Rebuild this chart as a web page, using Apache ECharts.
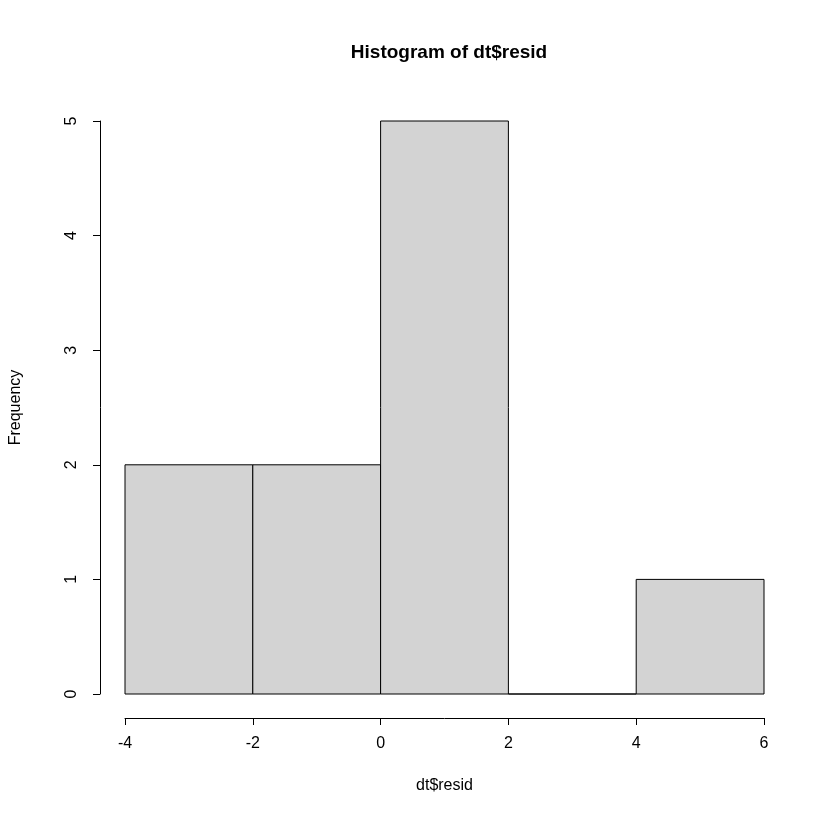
<!DOCTYPE html>
<html>
<head>
  <meta charset="UTF-8" />
  <script src="https://cdn.jsdelivr.net/npm/echarts@6/dist/echarts.min.js"></script>
  <style>
    body { margin: 0; background: #fff; }
    #chart { width: 840px; height: 840px; }
  </style>
</head>
<body>
  <div id="chart"></div>
  <script>
    // histogram bins
    const binStart = [-4, -2, 0, 2, 4];
    const binEnd = [-2, 0, 2, 4, 6];
    const counts = [2, 2, 5, 0, 1];
    const xTicks = [-4, -2, 0, 2, 4, 6];
    const yTicks = [0, 1, 2, 3, 4, 5];

    const font = 'Liberation Sans, Arial, sans-serif';
    const chart = echarts.init(document.getElementById('chart'));

    chart.setOption({
      animation: false,
      title: {
        text: 'Histogram of dt$resid',
        left: 444, top: 38, textAlign: 'center',
        textStyle: { fontFamily: font, fontSize: 19, fontWeight: 'bold', color: '#000' }
      },
      grid: { left: 124, right: 76, top: 121, bottom: 146 },
      xAxis: {
        type: 'value', min: -4, max: 6, interval: 2, offset: 24,
        name: 'dt$resid', nameLocation: 'middle', nameGap: 60,
        nameTextStyle: { fontFamily: font, fontSize: 16, color: '#000' },
        axisLine: { show: true, onZero: false, lineStyle: { color: '#000' } },
        axisTick: { show: true, length: 7, lineStyle: { color: '#000' } },
        axisLabel: { fontFamily: font, fontSize: 16, color: '#000', margin: 18 },
        splitLine: { show: false }
      },
      yAxis: {
        type: 'value', min: 0, max: 5, interval: 1, offset: 25,
        name: 'Frequency', nameLocation: 'middle', nameGap: 76,
        nameTextStyle: { fontFamily: font, fontSize: 16, color: '#000' },
        axisLine: { show: true, onZero: false, lineStyle: { color: '#000' } },
        axisTick: { show: true, length: 7, lineStyle: { color: '#000' } },
        axisLabel: { fontFamily: font, fontSize: 16, color: '#000', rotate: 90, margin: 20 },
        splitLine: { show: false }
      },
      series: [{
        type: 'custom',
        data: binStart.map((s, i) => [s, binEnd[i], counts[i]]),
        renderItem: function (params, api) {
          const p0 = api.coord([api.value(0), 0]);
          const p1 = api.coord([api.value(1), api.value(2)]);
          return {
            type: 'rect',
            shape: { x: p0[0], y: p1[1], width: p1[0] - p0[0], height: p0[1] - p1[1] },
            style: { fill: '#D3D3D3', stroke: '#000', lineWidth: 1 }
          };
        }
      }]
    });
  </script>
</body>
</html>
